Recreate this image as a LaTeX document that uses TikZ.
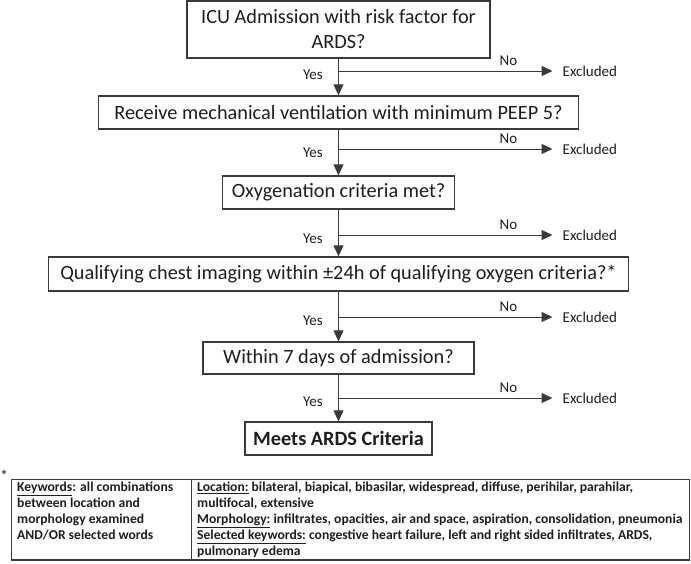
\documentclass[tikz,border=0pt]{standalone}
\usepackage{fontspec}
\setmainfont{Carlito}
\usetikzlibrary{arrows.meta,calc}
\definecolor{ink}{HTML}{1E1E1E}
\definecolor{linec}{HTML}{3A3A3A}
\tikzset{
  stepbox/.style={draw=linec, line width=1.3pt, fill=white, text=ink, inner sep=0pt, align=center,
    font=\fontsize{20.3}{25}\selectfont},
  flow/.style={draw=linec, line width=1pt, -{Triangle[length=11pt,width=10pt]}},
  lbl/.style={text=ink, inner sep=0pt, font=\fontsize{15}{18}\selectfont},
  tabtxt/.style={text=ink, inner sep=0pt, align=left, anchor=north west,
    font=\fontsize{13.6}{16}\selectfont\bfseries},
}
\begin{document}
\begin{tikzpicture}[x=1pt,y=-1pt]
\useasboundingbox (0,0) rectangle (691,563);

\node[stepbox, minimum width=303pt, minimum height=57pt] (b1) at (338.5,29.5)
  {ICU Admission with risk factor for\\ARDS?};
\node[stepbox, minimum width=480pt, minimum height=33pt] (b2) at (338.5,112.5)
  {Receive mechanical ventilation with minimum PEEP 5?};
\node[stepbox, minimum width=232pt, minimum height=33pt] (b3) at (338.5,192.5)
  {Oxygenation criteria met?};
\node[stepbox, minimum width=580pt, minimum height=34pt] (b4) at (338.5,274)
  {Qualifying chest imaging within ±24h of qualifying oxygen criteria?*};
\node[stepbox, minimum width=271pt, minimum height=32pt] (b5) at (338.5,358)
  {Within 7 days of admission?};
\node[stepbox, minimum width=187pt, minimum height=33pt, font=\fontsize{20.3}{25}\selectfont\bfseries] (b6) at (338.5,438.5)
  {Meets ARDS Criteria};

% vertical yes arrows
\draw[flow] (b1.south) -- (b2.north);
\draw[flow] (b2.south) -- (b3.north);
\draw[flow] (b3.south) -- (b4.north);
\draw[flow] (b4.south) -- (b5.north);
\draw[flow] (b5.south) -- (b6.north);

% branch points on the vertical lines
\coordinate (j1) at (338.5,71);
\coordinate (j2) at (338.5,149);
\coordinate (j3) at (338.5,235);
\coordinate (j4) at (338.5,317);
\coordinate (j5) at (338.5,398);

\foreach \i in {1,...,5}{
  \node[lbl, anchor=west] (ex\i) at ($(j\i)+(224,0)$) {Excluded};
  \draw[flow] (j\i) -- ($(ex\i.west)+(-10,0)$);
  \node[lbl] (no\i) at ($(j\i)+(170,-10)$) {No};
  \node[lbl, anchor=east] (yes\i) at ($(j\i)+(-15.5,4)$) {Yes};
}

% footnote table
\node[lbl, font=\fontsize{16}{16}\selectfont] (ast) at (4,476) {*};
\draw[linec, line width=1pt] (11,479) rectangle (689,560);
\draw[linec, line width=1.8pt] (11,560) -- (689,560);
\draw[linec, line width=1pt] (191.5,479) -- (191.5,560);
\node[tabtxt] (kw) at (17,481.5)
  {\underline{Keywords}: all combinations\\between location and\\morphology examined\\AND/OR selected words};
\node[tabtxt] (loc) at (197,481.5)
  {\underline{Location:} bilateral, biapical, bibasilar, widespread, diffuse, perihilar, parahilar,\\
   multifocal, extensive\\
   \underline{Morphology:} infiltrates, opacities, air and space, aspiration, consolidation, pneumonia\\
   \underline{Selected keywords:} congestive heart failure, left and right sided infiltrates, ARDS,\\
   pulmonary edema};
\end{tikzpicture}
\end{document}
